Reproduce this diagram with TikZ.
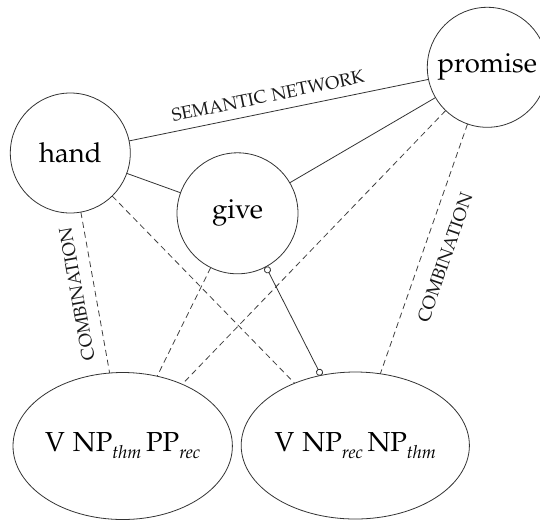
\documentclass[tikz,border=0pt]{standalone}
\usepackage[T1]{fontenc}
\usepackage[sc]{mathpazo}
\usetikzlibrary{shapes.geometric,arrows.meta}
\begin{document}
\begin{tikzpicture}[x=1pt,y=-1pt,
  every node/.style={inner sep=0pt, outer sep=0pt},
  lemma/.style={circle, draw=black!80, line width=0.8pt, minimum size=120pt,
    font=\fontsize{27.5}{32}\selectfont},
  frame/.style={ellipse, draw=black!80, line width=0.8pt,
    minimum width=182pt, minimum height=147pt,
    font=\fontsize{27.5}{32}\selectfont},
  sem/.style={draw=black!80, line width=0.8pt},
  comb/.style={draw=black!75, line width=0.8pt, dash pattern=on 6pt off 4pt},
  link/.style={draw=black!80, line width=0.8pt,
    {Circle[open,length=7pt,width=7pt]}-{Circle[open,length=7pt,width=7pt]}},
  lbl/.style={font=\fontsize{18}{22}\selectfont, text=black!90}
]
\useasboundingbox (0,0) rectangle (540,523);

% verbs
\node[lemma] (hand) at (70.3,153) {hand};
\node[lemma, minimum size=121pt] (give) at (237.5,213.3) {give};
\node[lemma] (promise) at (487.3,67.3) {promise};

% constructions
\newcommand{\sbs}[1]{\raisebox{-0.25em}{\fontsize{18}{21}\selectfont\itshape #1}}
\node[frame] (thm) at (122.7,446) {V NP\sbs{thm}\,PP\sbs{rec}};
\node[frame] (rec) at (355.3,445.5) {V NP\sbs{rec}\,NP\sbs{thm}};

% semantic network
\draw[sem] (hand) -- (promise);
\draw[sem] (hand) -- (give);
\draw[sem] (give) -- (promise);
\node[lbl, rotate=11.6] (semlbl) at (268,96) {SEMANTIC NETWORK};

% combination links
\draw[comb] (hand) -- (thm);
\draw[comb] (hand) -- (rec);
\draw[comb] (give) -- (thm);
\draw[comb] (promise) -- (thm);
\draw[comb] (promise) -- (rec);

\node[lbl, rotate=100.1] (combl) at (77,294) {COMBINATION};
\node[lbl, rotate=70.8] (combr) at (445,257.5) {COMBINATION};

% direct link
\draw[link] (give.-62.7) -- (rec.116.3);
\end{tikzpicture}
\end{document}
